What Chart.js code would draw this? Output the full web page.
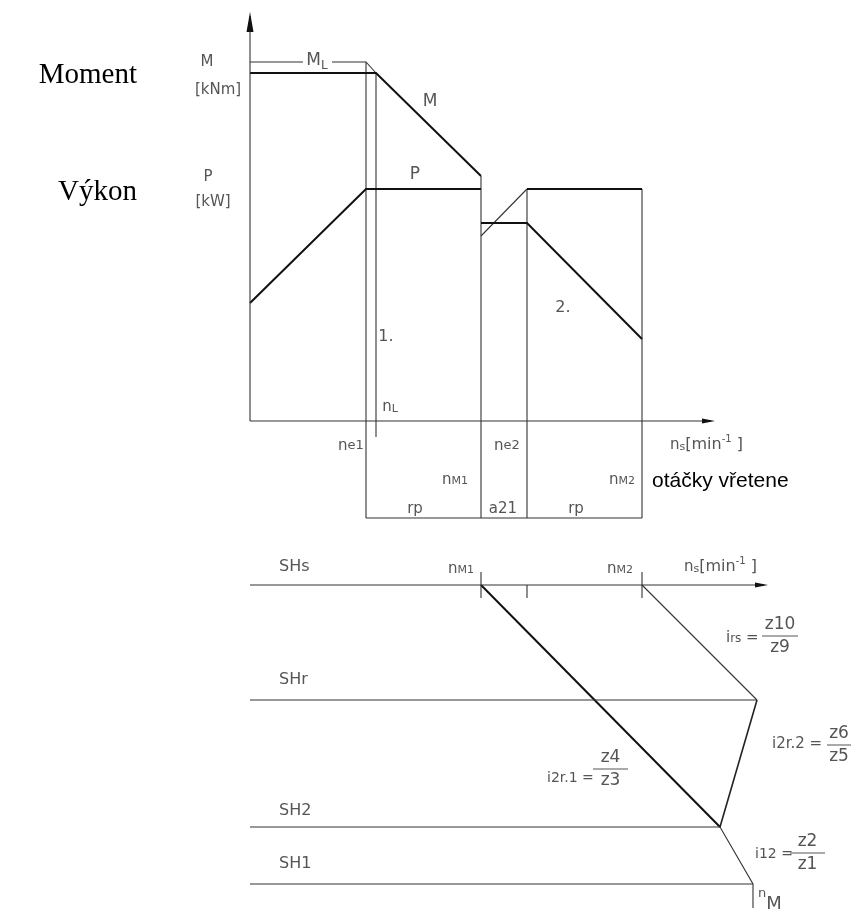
<!DOCTYPE html>
<html>
  <head>
    <title>Moment a výkon – otáčky vřetene</title>
    <style>
      body { margin: 0; background: #fff; }
      #wrap { width: 857px; height: 916px; }
    </style>
  </head>
  <body>
    <div id="wrap"><canvas id="diagram" width="857" height="916"></canvas></div>

    <script src="https://cdn.jsdelivr.net/npm/chart.js"></script>
    <script>
      // speeds measured from the axis origin, values measured up from the speed axis
      const speedLabels = ["ne1", "nL", "nM1", "ne2", "nM2"];
      const speedValues = [116, 126, 231, 277, 392];
      const speedAxisEnd = 465;
      const valueAxisTop = 409;

      // torque M and its limit ML
      const torqueSpeed = [0, 126, 231];
      const torqueValue = [348, 348, 245];
      const torqueLimitSpeed = [0, 53, 82, 116, 126];
      const torqueLimitValue = [359, 359, 359, 359, 348];

      // power P, range 1 and range 2
      const power1Speed = [0, 116, 231];
      const power1Value = [118, 232, 232];
      const power2Speed = [231, 277, 392];
      const power2Value = [198, 198, 82];
      const power2LimitSpeed = [231, 277, 392];
      const power2LimitValue = [185, 232, 232];

      // vertical guide lines (speed, from, to)
      const guideSpeed = [116, 126, 231, 277, 392];
      const guideFrom = [359, 348, 245, 232, 232];
      const guideTo = [-97, -16, -97, -97, -97];
      const dimensionLevel = -97;

      // speed graph: shafts and ratio rays
      const shaftNames = ["SHs", "SHr", "SH2", "SH1"];
      const shaftLevels = [-164, -279, -406, -463];
      const shaftEnds = [518, 507, 470, 503];
      const shaftLabelLift = [18, 20, 16, 20];
      const ray1Speed = [231, 470, 503, 503];
      const ray1Level = [-164, -406, -463, -487];
      const ray2Speed = [392, 507, 470];
      const ray2Level = [-164, -279, -406];
      const shaftTickSpeed = [231, 277, 392];
      const shaftTickTop = [-151, -164, -151];
      const shaftTickBottom = [-177, -177, -177];

      const cad = '"DejaVu Sans", sans-serif';
      const cadColor = "#555";
      const thin = { color: "#333", width: 1.1 };
      const thick = { color: "#111", width: 2 };

      const pts = (xs, ys) => xs.map((x, i) => ({ x: x, y: ys[i] }));
      const datasets = [];
      function line(points, style) {
        datasets.push({
          data: points,
          borderColor: style.color,
          borderWidth: style.width,
          pointRadius: 0,
          showLine: true,
          fill: false,
          tension: 0,
        });
      }

      // axes
      line(pts([0, 0], [0, valueAxisTop - 4]), thin);
      line(pts([0, speedAxisEnd - 4], [0, 0]), thin);
      // torque
      line(pts(torqueSpeed, torqueValue), thick);
      line(pts(torqueLimitSpeed.slice(0, 2), torqueLimitValue.slice(0, 2)), thin);
      line(pts(torqueLimitSpeed.slice(2), torqueLimitValue.slice(2)), thin);
      // power
      line(pts(power1Speed, power1Value), thick);
      line(pts(power2Speed, power2Value), thick);
      line(pts(power2LimitSpeed.slice(0, 2), power2LimitValue.slice(0, 2)), thin);
      line(pts(power2LimitSpeed.slice(1), power2LimitValue.slice(1)), thick);
      // guides
      guideSpeed.forEach((s, i) =>
        line(pts([s, s], [guideFrom[i], guideTo[i]]), thin)
      );
      line(pts([guideSpeed[0], guideSpeed[4]], [dimensionLevel, dimensionLevel]), thin);
      // shafts
      shaftLevels.forEach((lv, i) =>
        line(pts([0, shaftEnds[i] - (i === 0 ? 4 : 0)], [lv, lv]), thin)
      );
      shaftTickSpeed.forEach((s, i) =>
        line(pts([s, s], [shaftTickTop[i], shaftTickBottom[i]]), thin)
      );
      line(pts(ray1Speed.slice(0, 2), ray1Level.slice(0, 2)), thick);
      line(pts(ray1Speed.slice(1), ray1Level.slice(1)), thin);
      line(pts(ray2Speed.slice(0, 2), ray2Level.slice(0, 2)), thin);
      line(pts(ray2Speed.slice(1), ray2Level.slice(1)), { color: "#222", width: 1.6 });

      // labels: anchor in data units, parts = [text, size, dy]
      const labels = [
        { x: -113, y: 346, align: "right", font: '"Liberation Serif", serif', color: "#000", parts: [["Moment", 29, 0]] },
        { x: -113, y: 229, align: "right", font: '"Liberation Serif", serif', color: "#000", parts: [["Výkon", 29, 0]] },
        { x: -43, y: 359, parts: [["M", 15, 0]] },
        { x: -32, y: 331, parts: [["[kNm]", 15, 0]] },
        { x: -42, y: 244, parts: [["P", 15, 0]] },
        { x: -37, y: 219, parts: [["[kW]", 15, 0]] },
        { x: 67, y: 360, parts: [["M", 17, 0], ["L", 12, 5]] },
        { x: 180, y: 319, parts: [["M", 17, 0]] },
        { x: 165, y: 246, parts: [["P", 17, 0]] },
        { x: 136, y: 84, parts: [["1.", 16, 0]] },
        { x: 313, y: 113, parts: [["2.", 16, 0]] },
        { x: 140, y: 14, parts: [["n", 15, 0], ["L", 11, 2]] },
        { x: 101, y: -25, parts: [["n", 15, 0], ["e1", 13, 0]] },
        { x: 257, y: -25, parts: [["n", 15, 0], ["e2", 13, 0]] },
        { x: 205, y: -59, parts: [["n", 15, 0], ["M1", 11, 1]] },
        { x: 372, y: -59, parts: [["n", 15, 0], ["M2", 11, 1]] },
        { x: 420, y: -24, align: "left", parts: [["n", 15, 0], ["s", 11, 2], ["[min", 16, 0], ["-1", 10, -6], [" ]", 16, 0]] },
        { x: 402, y: -60, align: "left", font: '"Liberation Sans", sans-serif', color: "#000", parts: [["otáčky vřetene", 21, 0]] },
        { x: 165, y: -88, parts: [["rp", 15, 0]] },
        { x: 253, y: -88, parts: [["a21", 15, 0]] },
        { x: 326, y: -88, parts: [["rp", 15, 0]] },
        { x: 211, y: -148, parts: [["n", 15, 0], ["M1", 11, 1]] },
        { x: 370, y: -148, parts: [["n", 15, 0], ["M2", 11, 1]] },
        { x: 434, y: -146, align: "left", parts: [["n", 15, 0], ["s", 11, 2], ["[min", 16, 0], ["-1", 10, -6], [" ]", 16, 0]] },
        { x: 508, y: -479, align: "left", parts: [["n", 13, -6], ["M", 18, 4]] },
      ];
      shaftNames.forEach((n, i) =>
        labels.push({ x: 29, y: shaftLevels[i] + shaftLabelLift[i], align: "left", parts: [[n, 16, 0]] })
      );

      // gear ratios: prefix, numerator, denominator, text anchor, bar
      const ratios = [
        { pre: [["i", 15, 0], ["rs", 12, 1], [" =", 15, 0]], num: "z10", den: "z9", x: 476, y: -217, barY: -215, bx: [512, 548] },
        { pre: [["i2r.2 =", 15, 0]], num: "z6", den: "z5", x: 522, y: -323, barY: -324, bx: [577, 601] },
        { pre: [["i2r.1 =", 14, 0]], num: "z4", den: "z3", x: 297, y: -357, barY: -348, bx: [343, 378] },
        { pre: [["i12 =", 14, 0]], num: "z2", den: "z1", x: 505, y: -433, barY: -432, bx: [540, 575] },
      ];

      function drawParts(ctx, lb, px, py) {
        const font = lb.font || cad;
        ctx.fillStyle = lb.color || cadColor;
        ctx.textBaseline = "middle";
        ctx.textAlign = "left";
        let widths = lb.parts.map((p) => {
          ctx.font = p[1] + "px " + font;
          return ctx.measureText(p[0]).width;
        });
        const total = widths.reduce((a, b) => a + b, 0);
        const align = lb.align || "center";
        let x = align === "left" ? px : align === "right" ? px - total : px - total / 2;
        lb.parts.forEach((p, i) => {
          ctx.font = p[1] + "px " + font;
          ctx.fillText(p[0], x, py + p[2]);
          x += widths[i];
        });
      }

      const annotate = {
        id: "annotate",
        afterDatasetsDraw(chart) {
          const ctx = chart.ctx;
          const sx = chart.scales.x, sy = chart.scales.y;
          const X = (v) => sx.getPixelForValue(v), Y = (v) => sy.getPixelForValue(v);
          ctx.save();
          // arrow heads
          ctx.fillStyle = "#111";
          const arrow = (tx, ty, bx, by, half) => {
            const dx = tx - bx, dy = ty - by, len = Math.hypot(dx, dy);
            const nx = -dy / len, ny = dx / len;
            ctx.beginPath();
            ctx.moveTo(tx, ty);
            ctx.lineTo(bx + nx * half, by + ny * half);
            ctx.lineTo(bx - nx * half, by - ny * half);
            ctx.closePath();
            ctx.fill();
          };
          arrow(X(0), Y(valueAxisTop), X(0), Y(valueAxisTop - 20), 3.5);
          arrow(X(speedAxisEnd), Y(0), X(speedAxisEnd - 13), Y(0), 2.5);
          arrow(X(shaftEnds[0]), Y(shaftLevels[0]), X(shaftEnds[0] - 13), Y(shaftLevels[0]), 2.5);

          labels.forEach((lb) => drawParts(ctx, lb, X(lb.x), Y(lb.y)));

          ratios.forEach((r) => {
            drawParts(ctx, { parts: r.pre, align: "left" }, X(r.x), Y(r.y));
            const by = Y(r.barY);
            ctx.strokeStyle = cadColor;
            ctx.lineWidth = 1;
            ctx.beginPath();
            ctx.moveTo(X(r.bx[0]), by);
            ctx.lineTo(X(r.bx[1]), by);
            ctx.stroke();
            const cx = (X(r.bx[0]) + X(r.bx[1])) / 2;
            drawParts(ctx, { parts: [[r.num, 17, 0]] }, cx, by - 11);
            drawParts(ctx, { parts: [[r.den, 17, 0]] }, cx, by + 12);
          });
          ctx.restore();
        },
      };

      new Chart(document.getElementById("diagram").getContext("2d"), {
        type: "scatter",
        data: { datasets: datasets },
        options: {
          responsive: false,
          animation: false,
          layout: { padding: 0 },
          plugins: { legend: { display: false }, tooltip: { enabled: false } },
          scales: {
            x: { type: "linear", min: -250, max: 607, display: false },
            y: { type: "linear", min: -495, max: 421, display: false },
          },
        },
        plugins: [annotate],
      });
    </script>
  </body>
</html>
